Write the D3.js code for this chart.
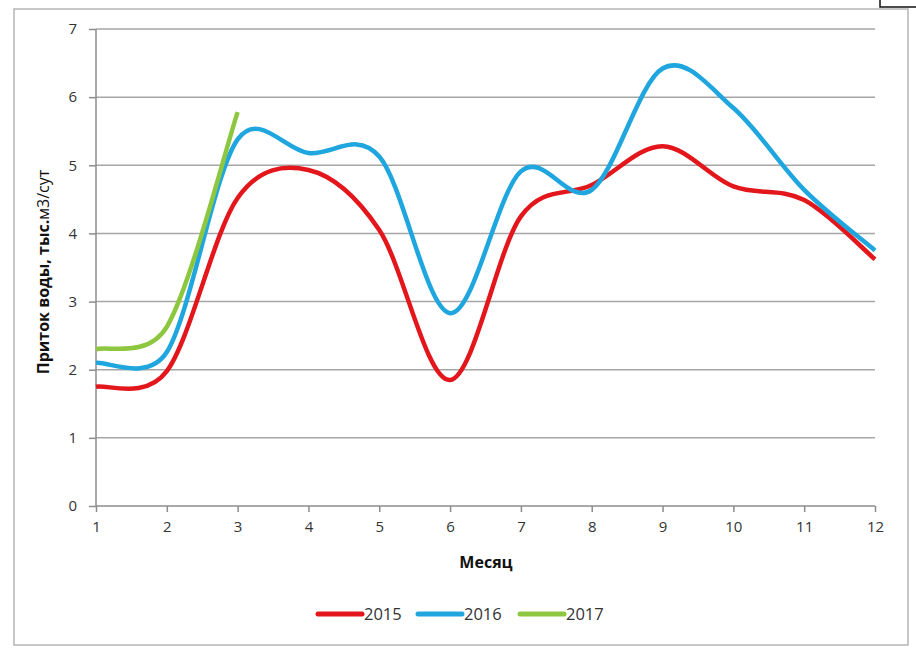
<!DOCTYPE html>
<html>
<head>
<meta charset="utf-8">
<script src="https://cdn.jsdelivr.net/npm/d3@7"></script>
<style>
  body { margin: 0; background: #fff; }
  text { font-family: "Open Sans", "DejaVu Sans", sans-serif; }
</style>
</head>
<body>
<script>
// Monthly water inflow chart, three years

var months = [1, 2, 3, 4, 5, 6, 7, 8, 9, 10, 11, 12];
var yTicks = [0, 1, 2, 3, 4, 5, 6, 7];
var seriesNames = ["2015", "2016", "2017"];
var values2015 = [1.75, 1.98, 4.52, 4.93, 4.05, 1.85, 4.25, 4.71, 5.28, 4.69, 4.49, 3.62];
var values2016 = [2.1, 2.26, 5.38, 5.18, 5.13, 2.83, 4.91, 4.64, 6.42, 5.84, 4.64, 3.75];
var values2017 = [2.3, 2.63, 5.78];
var colors = ["#e3161b", "#1fa6df", "#8dc63f"];

var w = 916;
var h = 652;

var svg = d3.select("body")
  .append("svg")
  .attr("width", w)
  .attr("height", h);

// small black bracket in the top right corner of the picture
svg.append("path")
  .attr("d", "M880,0 V7 H916")
  .attr("fill", "none")
  .attr("stroke", "#111")
  .attr("stroke-width", 1.5);

// chart frame
svg.append("rect")
  .attr("x", 14)
  .attr("y", 9)
  .attr("width", 894)
  .attr("height", 636)
  .attr("fill", "#fff")
  .attr("stroke", "#b5b5b5")
  .attr("stroke-width", 1.5);

var scaleX = d3.scaleLinear()
  .domain([1, 12])
  .range([96, 875]);

var scaleY = d3.scaleLinear()
  .domain([0, 7])
  .range([506, 29]);

// horizontal gridlines
svg.selectAll("line.grid")
  .data(yTicks.slice(1))
  .enter()
  .append("line")
  .attr("class", "grid")
  .attr("x1", scaleX(1))
  .attr("x2", scaleX(12))
  .attr("y1", function(d) { return scaleY(d); })
  .attr("y2", function(d) { return scaleY(d); })
  .attr("stroke", "#a6a6a6")
  .attr("stroke-width", 1.5);

// y axis
var yAxis = d3.axisLeft(scaleY)
  .tickValues(yTicks)
  .tickSize(7)
  .tickPadding(12)
  .tickFormat(d3.format("d"));

var gy = svg.append("g")
  .attr("transform", "translate(" + scaleX(1) + ",0)")
  .call(yAxis);

// x axis
var xAxis = d3.axisBottom(scaleX)
  .tickValues(months)
  .tickSize(6)
  .tickPadding(9)
  .tickFormat(d3.format("d"));

var gx = svg.append("g")
  .attr("transform", "translate(0," + scaleY(0) + ")")
  .call(xAxis);

[gx, gy].forEach(function(g) {
  g.select(".domain").attr("stroke", "#8c8c8c").attr("stroke-width", 1.5);
  g.selectAll(".tick line").attr("stroke", "#8c8c8c").attr("stroke-width", 1.5);
  g.selectAll(".tick text")
    .attr("fill", "#333")
    .style("font-size", "15px")
    .style("font-family", "'Open Sans', 'DejaVu Sans', sans-serif");
});
gx.select(".domain").attr("d", "M" + scaleX(1) + ",0H" + scaleX(12));
gy.select(".domain").attr("d", "M0," + scaleY(0) + "V" + scaleY(7));

// Excel style smoothing: Catmull-Rom bezier, control points shortened
// when a neighbour chord is long compared with the segment
function dist(a, b) {
  return Math.sqrt((a[0] - b[0]) * (a[0] - b[0]) + (a[1] - b[1]) * (a[1] - b[1]));
}
function smoothPath(values) {
  var pts = values.map(function(v, i) { return [scaleX(months[i]), scaleY(v)]; });
  var p = d3.path();
  p.moveTo(pts[0][0], pts[0][1]);
  for (var i = 0; i < pts.length - 1; i++) {
    var p0 = pts[Math.max(i - 1, 0)];
    var p1 = pts[i];
    var p2 = pts[i + 1];
    var p3 = pts[Math.min(i + 2, pts.length - 1)];
    var d12 = dist(p1, p2);
    var d02 = dist(p0, p2);
    var d13 = dist(p1, p3);
    var f1 = Math.min(1 / 6, d12 / (2 * d02));
    var f2 = Math.min(1 / 6, d12 / (2 * d13));
    p.bezierCurveTo(
      p1[0] + (p2[0] - p0[0]) * f1, p1[1] + (p2[1] - p0[1]) * f1,
      p2[0] - (p3[0] - p1[0]) * f2, p2[1] - (p3[1] - p1[1]) * f2,
      p2[0], p2[1]);
  }
  return p.toString();
}

var allSeries = [values2015, values2016, values2017];

svg.selectAll("path.series")
  .data(allSeries)
  .enter()
  .append("path")
  .attr("class", "series")
  .attr("d", function(d) { return smoothPath(d); })
  .attr("fill", "none")
  .attr("stroke", function(d, i) { return colors[i]; })
  .attr("stroke-width", 4.5)
  .attr("stroke-linecap", "butt");

// axis titles
svg.append("text")
  .text("Месяц")
  .attr("x", 486)
  .attr("y", 568)
  .attr("text-anchor", "middle")
  .attr("fill", "#111")
  .style("font-size", "16px")
  .style("font-weight", "bold");

var yTitle = svg.append("text")
  .attr("transform", "translate(49,272) rotate(-90)")
  .attr("text-anchor", "middle")
  .attr("fill", "#111")
  .style("font-size", "16px")
  .style("font-weight", "bold");
yTitle.append("tspan").text("Приток воды, тыс.");
yTitle.append("tspan").text("м3/сут").style("font-weight", "normal");

// legend
var legendX = [318, 418, 520];
var legend = svg.selectAll("g.legend")
  .data(seriesNames)
  .enter()
  .append("g")
  .attr("class", "legend")
  .attr("transform", function(d, i) { return "translate(" + legendX[i] + ",614)"; });

legend.append("line")
  .attr("x1", 0)
  .attr("x2", 44)
  .attr("y1", 0)
  .attr("y2", 0)
  .attr("stroke", function(d, i) { return colors[i]; })
  .attr("stroke-width", 5)
  .attr("stroke-linecap", "round");

legend.append("text")
  .text(function(d) { return d; })
  .attr("x", 46)
  .attr("y", 6)
  .attr("fill", "#333")
  .style("font-size", "16.5px");
</script>
</body>
</html>
